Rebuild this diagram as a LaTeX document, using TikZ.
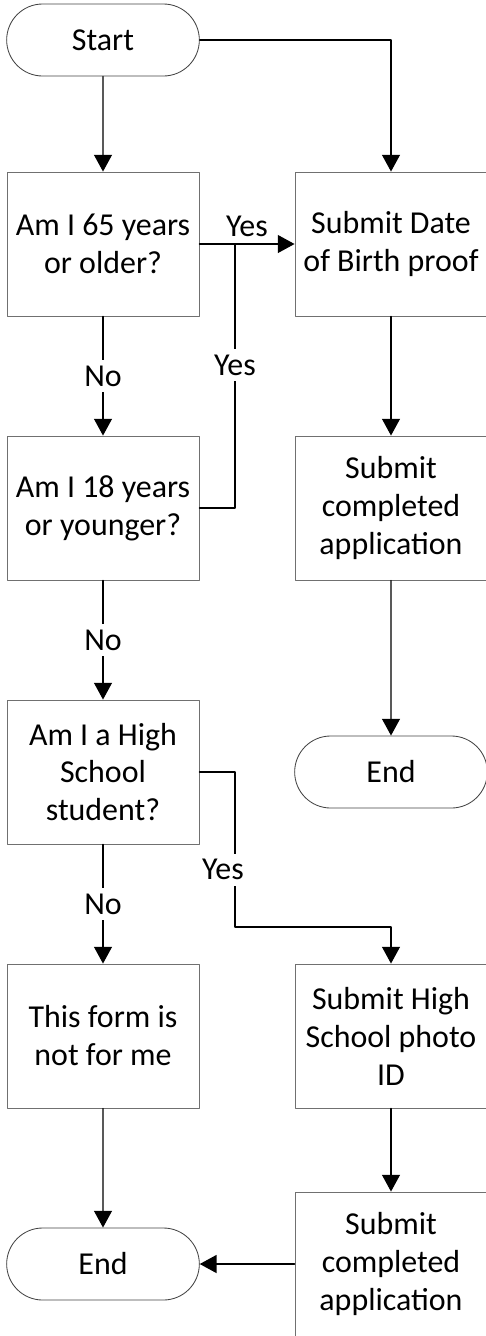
\documentclass[tikz,border=0pt]{standalone}
\usepackage{fontspec}
\setmainfont{Carlito}
\usetikzlibrary{arrows.meta,shapes.misc}
\definecolor{edgegray}{RGB}{112,112,112}

\begin{document}
\begin{tikzpicture}[line cap=round,line join=round,>={Triangle[length=0.42cm,width=0.45cm]},x=0.025cm,y=-0.025cm,
  every node/.style={font=\fontsize{22.7}{27}\selectfont},
  stepbox/.style={draw=edgegray,line width=0.6pt,rectangle,minimum width=4.8cm,minimum height=3.6cm,align=center,inner sep=2pt},
  term/.style={draw=edgegray!60!black,line width=0.6pt,rounded rectangle,minimum width=5.05cm,minimum height=1.8cm},
  lbl/.style={fill=white,inner sep=4pt},
  flow/.style={line width=0.9pt}]
\useasboundingbox (0,0) rectangle (486,1336);
\clip (0,0) rectangle (486,1336);
% left column
\node[term] (start) at (103,40) {Start};
\node[stepbox] (q65) at (103,244) {Am I 65 years\\or older?};
\node[stepbox] (q18) at (103,508) {Am I 18 years\\or younger?};
\node[stepbox] (qhs) at (103,772) {Am I a High\\School\\student?};
\node[stepbox] (notme) at (103,1036) {This form is\\not for me};
\node[term] (endl) at (103,1264) {End};
% right column
\node[stepbox] (dob) at (391,244) {Submit Date\\of Birth proof};
\node[stepbox] (appa) at (391,508) {Submit\\completed\\application};
\node[term] (endr) at (391,772) {End};
\node[stepbox] (photo) at (391,1036) {Submit High\\School photo\\ID};
\node[stepbox] (appb) at (391,1264) {Submit\\completed\\application};
\coordinate (ja) at (235,244);
\coordinate (jb) at (235,508);
\coordinate (jc) at (235,772);
\coordinate (jd) at (235,927);
% connectors
\draw[flow,->] (start) -- (q65);
\draw[flow,->] (start.east) -| (dob.north);
\draw[flow,->] (q65.east) -- node[above,inner sep=5pt] {Yes} (dob.west);
\draw[flow] (q18.east) -- (jb) -- node[lbl,pos=0.54] {Yes} (ja);
\draw[flow,->] (q65) -- node[lbl] {No} (q18);
\draw[flow,->] (q18) -- node[lbl] {No} (qhs);
\draw[flow,->] (qhs) -- node[lbl] {No} (notme);
\draw[flow,->] (qhs.east) -- (jc) -- node[lbl,pos=0.63,xshift=-0.3cm] {Yes} (jd) -| (photo.north);
\draw[flow,->] (notme) -- (endl);
\draw[flow,->] (dob) -- (appa);
\draw[flow,->] (appa) -- (endr);
\draw[flow,->] (photo) -- (appb);
\draw[flow,->] (appb.west) -- (endl.east);
\end{tikzpicture}
\end{document}
